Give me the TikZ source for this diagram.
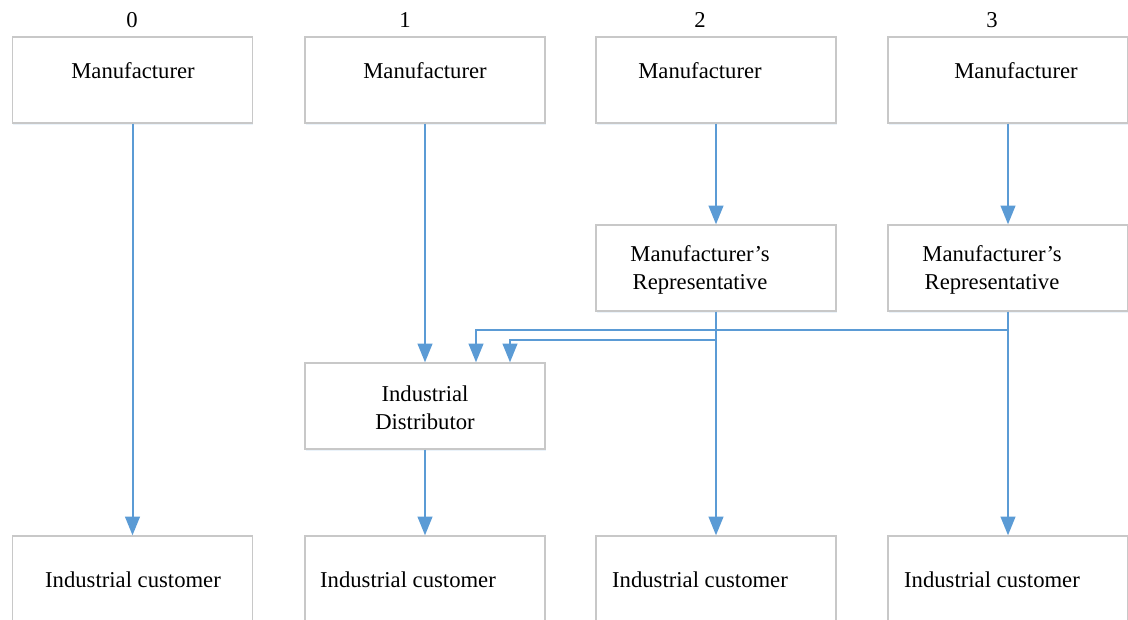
\documentclass[tikz,border=0pt]{standalone}
\usepackage{fontspec}
\setmainfont{Liberation Serif}
\usetikzlibrary{arrows.meta,calc,shadows}
\definecolor{flowblue}{HTML}{5B9BD5}
\definecolor{boxgray}{HTML}{C8C8C8}
\tikzset{
  box/.style={draw=boxgray, line width=1pt, fill=white, inner sep=0pt,
    minimum width=180pt, minimum height=64.5pt,
    drop shadow={shadow xshift=0.6pt, shadow yshift=-1.5pt, fill=flowblue!35, opacity=0.35}},
  txt/.style={font=\fontsize{17}{21}\selectfont, align=center, inner sep=0pt},
  flow/.style={draw=flowblue, line width=1.5pt, -{Triangle[width=11pt,length=14pt]}},
}
\begin{document}
\begin{tikzpicture}[x=0.75pt, y=-0.75pt]
  \useasboundingbox (0,0) rectangle (1128,620);
  \clip (0,0) rectangle (1128,620);
  \node[box] (m0) at (132.5,80) {};
  \node[box] (m1) at (425,80) {};
  \node[box] (m2) at (716,80) {};
  \node[box] (m3) at (1008,80) {};
  \node[box] (r2) at (716,268) {};
  \node[box] (r3) at (1008,268) {};
  \node[box] (dist) at (425,406) {};
  \node[box] (c0) at (132.5,579) {};
  \node[box] (c1) at (425,579) {};
  \node[box] (c2) at (716,579) {};
  \node[box] (c3) at (1008,579) {};

  \node[txt] (n0) at (132,20) {0};
  \node[txt] (n1) at (405,20) {1};
  \node[txt] (n2) at (700,20) {2};
  \node[txt] (n3) at (992,20) {3};
  \node[txt] (tm0) at (133,71) {Manufacturer};
  \node[txt] (tm1) at (425,71) {Manufacturer};
  \node[txt] (tm2) at (700,71) {Manufacturer};
  \node[txt] (tm3) at (1016,71) {Manufacturer};
  \node[txt] (tr2) at (700,270) {Manufacturer’s\\Representative};
  \node[txt] (tr3) at (992,270) {Manufacturer’s\\Representative};
  \node[txt] (tdist) at (425,408) {Industrial\\Distributor};
  \node[txt] (tc0) at (133,580) {Industrial customer};
  \node[txt] (tc1) at (408,580) {Industrial customer};
  \node[txt] (tc2) at (700,580) {Industrial customer};
  \node[txt] (tc3) at (992,580) {Industrial customer};

  \draw[flow] (m0.south) -- (c0.north);
  \draw[flow] (m1.south) -- (dist.north);
  \draw[flow] (m2.south) -- (r2.north);
  \draw[flow] (m3.south) -- (r3.north);
  \draw[flow] (dist.south) -- (c1.north);
  \draw[flow] (r2.south) -- (c2.north);
  \draw[flow] (r3.south) -- (c3.north);
  \draw[flow] (r3.south) -- ++(0,18) -| ($(dist.north)+(51,0)$);
  \draw[flow] (r2.south) -- ++(0,28) -| ($(dist.north)+(85,0)$);
\end{tikzpicture}
\end{document}
